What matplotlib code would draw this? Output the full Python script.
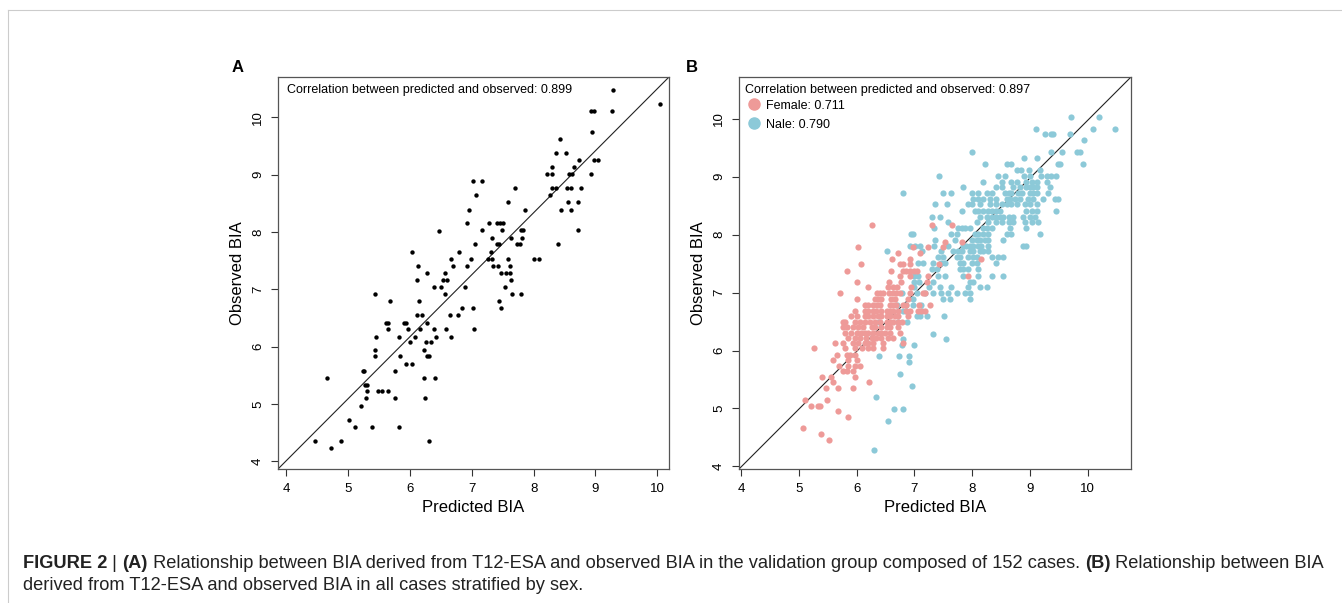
import matplotlib
matplotlib.use("Agg")
import matplotlib.pyplot as plt
from matplotlib.lines import Line2D

plt.rcParams['font.family'] = ['Liberation Sans', 'DejaVu Sans']

# ---- Panel A: validation group (predicted vs observed BIA)
pred_a = [7.02, 7.07, 6.96, 6.93, 6.47, 7.05, 6.03, 6.80, 6.13, 6.67, 6.69, 6.92, 6.99,
          9.29, 10.05, 8.93, 8.97, 9.27, 8.94, 8.43, 8.36, 8.52, 8.74, 8.98, 9.04, 8.29, 8.65,
          8.21, 8.29, 8.58, 8.62, 8.93, 7.17, 7.70, 8.29, 8.37, 8.54, 8.60, 8.77, 8.26, 7.58,
          8.55, 8.72, 7.86, 8.45, 8.61, 7.28, 7.40, 7.45, 7.51, 7.17, 7.49, 7.80, 7.83, 8.72,
          7.32, 7.64, 7.82, 7.40, 7.44, 7.73, 7.78, 8.40, 7.31, 7.27, 7.32, 7.58, 8.00, 8.08,
          7.34, 7.43, 7.61,
          6.27, 6.57, 6.12, 6.53, 6.60, 6.39, 6.50, 6.89, 5.44, 6.56, 5.68, 6.15, 6.12, 6.20,
          6.65, 6.77, 6.84, 7.02, 5.61, 5.65, 5.91, 5.94, 6.28, 5.64, 5.96, 6.17, 6.39, 6.58,
          7.04, 5.45, 5.82, 6.08, 6.42, 6.66, 6.00, 6.26, 6.34, 5.44, 6.23, 5.43, 5.84, 6.27,
          6.31, 5.24, 5.26, 5.75, 5.93, 6.04, 4.65, 6.23, 6.41, 5.27, 5.31, 5.30, 5.48, 5.54,
          5.65, 5.29, 5.76, 6.25, 5.20, 5.01, 5.11, 5.38, 5.82, 4.47, 4.89, 6.31, 4.73,
          7.47, 7.56, 7.62, 7.63, 7.54, 7.65, 7.79, 7.44, 7.47]
obs_a = [8.88, 8.64, 8.39, 8.15, 8.02, 7.79, 7.65, 7.65, 7.40, 7.52, 7.40, 7.40, 7.52,
         10.48, 10.23, 10.11, 10.11, 10.11, 9.74, 9.62, 9.38, 9.38, 9.25, 9.25, 9.25, 9.13, 9.13,
         9.01, 9.01, 9.01, 9.01, 9.01, 8.89, 8.76, 8.76, 8.76, 8.76, 8.76, 8.76, 8.64, 8.52,
         8.52, 8.52, 8.39, 8.39, 8.39, 8.15, 8.15, 8.15, 8.15, 8.03, 8.03, 8.03, 8.03, 8.03,
         7.90, 7.90, 7.90, 7.79, 7.79, 7.79, 7.79, 7.79, 7.65, 7.53, 7.53, 7.53, 7.53, 7.53,
         7.40, 7.40, 7.40,
         7.29, 7.29, 7.16, 7.16, 7.16, 7.04, 7.04, 7.04, 6.92, 6.92, 6.79, 6.79, 6.55, 6.55,
         6.55, 6.55, 6.67, 6.67, 6.42, 6.42, 6.42, 6.42, 6.42, 6.30, 6.30, 6.30, 6.30, 6.30,
         6.30, 6.17, 6.17, 6.17, 6.17, 6.17, 6.08, 6.08, 6.08, 5.95, 5.95, 5.83, 5.83, 5.83,
         5.83, 5.58, 5.58, 5.58, 5.70, 5.70, 5.46, 5.46, 5.46, 5.34, 5.34, 5.22, 5.22, 5.22,
         5.22, 5.10, 5.10, 5.10, 4.97, 4.73, 4.60, 4.60, 4.60, 4.36, 4.36, 4.36, 4.23,
         7.28, 7.28, 7.28, 7.16, 7.04, 6.92, 6.92, 6.79, 6.67]

# ---- Panel B: all cases by sex
female_x = ([6.26, 7.30, 7.66] + [7.53, 7.83] + [6.03, 6.97, 7.23, 7.50] + [6.72, 7.09]
            + [6.62, 6.93, 8.15] + [6.07, 6.76, 6.81, 6.92, 7.43]
            + [5.83, 6.60, 6.81, 6.86, 6.93, 6.99, 7.05] + [6.76, 6.93, 7.23, 7.93]
            + [6.00, 6.56, 6.77, 7.22] + [6.20, 6.55, 6.63, 6.70, 6.95]
            + [5.71, 6.36, 6.40, 6.45, 6.56, 6.63, 6.69, 6.76, 6.92, 7.15, 7.19]
            + [6.00, 6.32, 6.37, 6.43, 6.60, 6.66, 6.89]
            + [6.14, 6.20, 6.29, 6.36, 6.41, 6.58, 6.63, 6.69, 6.81, 6.86, 7.08, 7.27]
            + [5.97, 6.14, 6.20, 6.29, 6.34, 6.43, 6.52, 6.58, 6.63, 6.72, 6.86, 6.92, 7.07, 7.12, 7.18]
            + [5.91, 6.00, 6.14, 6.20, 6.29, 6.37, 6.43, 6.52, 6.58, 6.66, 6.72, 6.89]
            + [5.77, 5.80, 5.97, 6.06, 6.14, 6.23, 6.32, 6.40, 6.52, 6.58, 6.63, 6.72, 6.78]
            + [5.77, 5.83, 5.94, 6.03, 6.11, 6.26, 6.32, 6.43, 6.52, 6.58, 6.72]
            + [5.80, 5.91, 6.00, 6.08, 6.14, 6.20, 6.29, 6.37, 6.43, 6.49, 6.58, 6.75]
            + [5.85, 5.97, 6.06, 6.17, 6.26, 6.34, 6.43, 6.55, 6.63]
            + [5.63, 5.77, 5.94, 6.03, 6.14, 6.20, 6.29, 6.46, 6.81]
            + [5.26, 5.80, 5.97, 6.09, 6.20, 6.29, 6.46]
            + [5.66, 5.83, 5.89, 5.97] + [5.59, 5.86, 6.00] + [5.70, 5.86, 5.97, 6.06]
            + [5.77, 5.83, 5.94] + [5.41, 5.56, 5.97] + [5.60, 6.22] + [5.47, 5.68, 5.93]
            + [5.10, 5.48] + [5.21, 5.33, 5.37] + [5.68] + [5.86] + [5.07] + [5.38] + [5.52])
female_y = ([8.17] * 3 + [7.87] * 2 + [7.78] * 4 + [7.68] * 2
            + [7.58] * 3 + [7.49] * 5
            + [7.38] * 7 + [7.29] * 4
            + [7.19] * 4 + [7.09] * 5
            + [6.99] * 11
            + [6.89] * 7
            + [6.79] * 12
            + [6.69] * 15
            + [6.59] * 12
            + [6.50] * 13
            + [6.40] * 11
            + [6.30] * 12
            + [6.21] * 9
            + [6.13] * 9
            + [6.04] * 7
            + [5.93] * 4 + [5.84] * 3 + [5.74] * 4
            + [5.64] * 3 + [5.54] * 3 + [5.45] * 2 + [5.35] * 3
            + [5.15] * 2 + [5.05] * 3 + [4.95] + [4.86] + [4.66] + [4.56] + [4.46])

male_x = ([9.71, 10.19] + [9.10, 10.10, 10.47] + [9.26, 9.36, 9.40, 9.69] + [9.93]
          + [8.00, 9.36, 9.56, 9.82, 9.86] + [8.90, 9.12]
          + [8.22, 8.60, 8.68, 9.49, 9.52, 9.92] + [8.78, 8.84, 8.99, 9.17]
          + [7.43, 8.45, 8.57, 8.90, 9.00, 9.20, 9.29, 9.37, 9.46]
          + [8.19, 8.51, 8.67, 8.77, 8.94, 9.03, 9.12, 9.29]
          + [7.85, 8.42, 8.51, 8.71, 8.83, 8.94, 9.00, 9.06, 9.12, 9.35]
          + [6.81, 7.50, 7.64, 7.99, 8.10, 8.25, 8.34, 8.57, 8.63, 8.68, 8.80, 8.86, 9.00, 9.06, 9.12, 9.32]
          + [8.02, 8.11, 8.19, 8.31, 8.42, 8.60, 8.65, 8.74, 8.83, 8.97, 9.06, 9.23, 9.43, 9.49]
          + [7.36, 7.56, 7.93, 7.99, 8.14, 8.31, 8.42, 8.51, 8.60, 8.68, 8.77, 8.91, 9.00, 9.12]
          + [7.82, 8.05, 8.11, 8.19, 8.28, 8.34, 8.42, 8.48, 8.94, 9.03, 9.12, 9.46]
          + [7.30, 7.44, 8.14, 8.25, 8.34, 8.42, 8.48, 8.54, 8.63, 8.71, 8.88, 9.00, 9.09]
          + [7.59, 8.08, 8.28, 8.42, 8.51, 8.63, 8.71, 8.91, 9.03, 9.14]
          + [7.34, 7.76, 7.82, 7.88, 7.96, 8.19, 8.25, 8.34, 8.65, 8.94]
          + [6.94, 6.98, 7.64, 7.73, 8.05, 8.11, 8.19, 8.28, 8.60, 8.68, 9.17]
          + [7.36, 7.70, 7.99, 8.08, 8.14, 8.22, 8.28, 8.53]
          + [6.92, 7.01, 7.09, 7.34, 7.59, 7.85, 7.90, 7.96, 8.02, 8.11, 8.16, 8.28, 8.88, 8.94]
          + [6.52, 7.13, 7.47, 7.67, 7.76, 7.82, 7.96, 8.02, 8.14, 8.19, 8.28]
          + [7.41, 7.50, 7.73, 7.79, 7.93, 8.02, 8.08, 8.34, 8.45, 8.54]
          + [7.07, 7.15, 7.33, 7.47, 7.53, 7.79, 7.85, 7.99, 8.08, 8.42]
          + [7.30, 7.39, 7.79, 7.85, 7.93, 8.11]
          + [6.99, 7.07, 7.41, 7.53, 7.85, 8.11, 8.34, 8.54]
          + [7.00, 7.08, 7.33, 7.96, 8.02]
          + [6.99, 7.25, 7.44, 7.64, 7.93, 8.14, 8.25]
          + [6.78, 7.05, 7.18, 7.33, 7.47, 7.59, 7.73, 7.88, 7.96]
          + [6.98, 7.50, 7.62, 7.96] + [6.70, 6.86, 6.98, 7.12] + [6.81, 6.86, 7.14]
          + [7.04, 7.09, 7.22, 7.51] + [6.39, 6.72, 6.88] + [7.32] + [6.81, 7.55]
          + [6.79, 6.99] + [6.38, 6.73, 6.91] + [6.90] + [6.76] + [6.96] + [6.33]
          + [6.65, 6.81] + [6.55] + [6.31])
male_y = ([10.03] * 2 + [9.83] * 3 + [9.73] * 4 + [9.63]
          + [9.43] * 5 + [9.32] * 2
          + [9.22] * 6 + [9.12] * 4
          + [9.02] * 9
          + [8.91] * 8
          + [8.82] * 10
          + [8.71] * 16
          + [8.62] * 14
          + [8.52] * 14
          + [8.41] * 12
          + [8.31] * 13
          + [8.21] * 10
          + [8.11] * 10
          + [8.01] * 11
          + [7.91] * 8
          + [7.81] * 14
          + [7.71] * 11
          + [7.61] * 10
          + [7.51] * 10
          + [7.40] * 6
          + [7.29] * 8
          + [7.19] * 5
          + [7.09] * 7
          + [6.99] * 9
          + [6.89] * 4 + [6.79] * 4 + [6.69] * 3
          + [6.59] * 4 + [6.49] * 3 + [6.28] + [6.20] * 2
          + [6.10] * 2 + [5.90] * 3 + [5.80] + [5.59] + [5.39] + [5.20]
          + [4.99] * 2 + [4.79] + [4.29])

ticks = [4, 5, 6, 7, 8, 9, 10]
female_col = '#EE9A98'
male_col = '#8CC9D8'
frame_col = '#555555'

fig = plt.figure(figsize=(13.42, 6.03), dpi=100)
W, H = 1342, 603


def px_axes(left, top, right, bottom):
    return fig.add_axes([left / W, 1 - bottom / H, (right - left) / W, (bottom - top) / H])


def style_axes(ax):
    for s in ax.spines.values():
        s.set_color(frame_col)
        s.set_linewidth(0.9)
    ax.set_xticks(ticks)
    ax.set_yticks(ticks)
    ax.tick_params(direction='out', length=5, width=0.8, color='#333333',
                   labelsize=9.5, pad=5)
    for lab in ax.get_yticklabels():
        lab.set_rotation(90)
        lab.set_va('center')
    ax.set_xlabel('Predicted BIA', fontsize=12, labelpad=4)
    ax.set_ylabel('Observed BIA', fontsize=12, labelpad=5)
    # diagonal reference line corner to corner
    ax.plot([0, 1], [0, 1], transform=ax.transAxes, color='#222222', lw=0.8, zorder=1)


# Panel A
ax1 = px_axes(278, 77, 669, 469)
ax1.scatter(pred_a, obs_a, s=10, color='black', linewidths=0, zorder=3)
ax1.set_xlim(3.865, 10.19)
ax1.set_ylim(3.868, 10.70)
style_axes(ax1)
ax1.text(0.022, 0.983, 'Correlation between predicted and observed: 0.899',
         transform=ax1.transAxes, fontsize=9, va='top', ha='left')
fig.text(238 / W, 1 - 68 / H, 'A', fontsize=12, fontweight='bold', ha='center', va='center')

# Panel B
ax2 = px_axes(739, 77, 1131, 469)
ax2.scatter(male_x, male_y, s=20, color=male_col, linewidths=0, zorder=2)
ax2.scatter(female_x, female_y, s=20, color=female_col, linewidths=0, zorder=3)
ax2.set_xlim(3.965, 10.75)
ax2.set_ylim(3.955, 10.72)
style_axes(ax2)
ax2.text(0.016, 0.983, 'Correlation between predicted and observed: 0.897',
         transform=ax2.transAxes, fontsize=9, va='top', ha='left')
handles = [Line2D([], [], marker='o', ls='', color=female_col, markersize=8),
           Line2D([], [], marker='o', ls='', color=male_col, markersize=8)]
ax2.legend(handles, ['Female: 0.711', 'Nale: 0.790'], loc='upper left',
           bbox_to_anchor=(-0.008, 0.964), frameon=False, fontsize=9,
           handletextpad=0.2, labelspacing=0.55, borderaxespad=0.3, handlelength=1.5)
fig.text(692 / W, 1 - 68 / H, 'B', fontsize=12, fontweight='bold', ha='center', va='center')

# page frame lines
fig.add_artist(Line2D([8 / W, 1], [1 - 10 / H, 1 - 10 / H], color='#cccccc', lw=0.8))
fig.add_artist(Line2D([8 / W, 8 / W], [0, 1 - 10 / H], color='#cccccc', lw=0.8))

# caption with mixed weights
renderer = fig.canvas.get_renderer()
line1 = [('FIGURE 2', 'bold'), (' | ', 'normal'), ('(A)', 'bold'),
         (' Relationship between BIA derived from T12-ESA and observed BIA in the validation '
          'group composed of 152 cases. ', 'normal'),
         ('(B)', 'bold'), (' Relationship between BIA', 'normal')]
line2 = [('derived from T12-ESA and observed BIA in all cases stratified by sex.', 'normal')]
for pieces, ypx in [(line1, 563), (line2, 585)]:
    xpx = 23
    for txt, wt in pieces:
        t = fig.text(xpx / W, 1 - ypx / H, txt, fontsize=13.15, fontweight=wt,
                     ha='left', va='center', color='#222222')
        bb = t.get_window_extent(renderer=renderer)
        xpx += bb.width

fig.savefig('out.png', dpi=100)
